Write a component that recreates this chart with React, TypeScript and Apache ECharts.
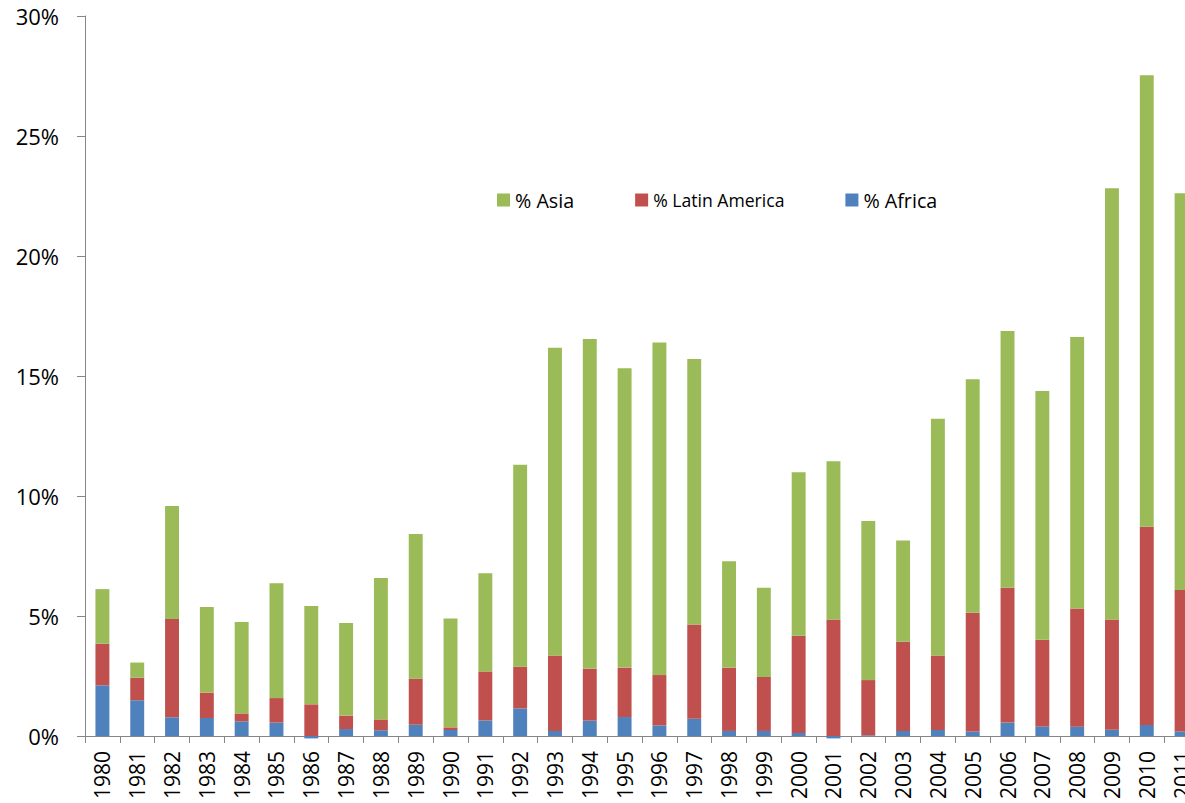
import React, { useEffect, useRef } from "react";
import * as echarts from "echarts";

const years = [
  "1980", "1981", "1982", "1983", "1984", "1985", "1986", "1987", "1988", "1989",
  "1990", "1991", "1992", "1993", "1994", "1995", "1996", "1997", "1998", "1999",
  "2000", "2001", "2002", "2003", "2004", "2005", "2006", "2007", "2008", "2009",
  "2010", "2011",
];

const africa = [
  2.11, 1.49, 0.78, 0.75, 0.61, 0.56, -0.1, 0.29, 0.24, 0.47,
  0.25, 0.65, 1.15, 0.21, 0.64, 0.79, 0.44, 0.72, 0.21, 0.21,
  0.13, -0.1, 0.03, 0.21, 0.25, 0.19, 0.56, 0.4, 0.39, 0.26,
  0.46, 0.19,
];

const latinAmerica = [
  1.74, 0.94, 4.1, 1.06, 0.33, 1.02, 1.32, 0.56, 0.45, 1.92,
  0.11, 2.04, 1.74, 3.14, 2.17, 2.06, 2.1, 3.93, 2.64, 2.25,
  4.05, 4.85, 2.3, 3.72, 3.1, 4.95, 5.62, 3.61, 4.92, 4.59,
  8.26, 5.89,
];

const asia = [
  2.27, 0.63, 4.7, 3.57, 3.81, 4.78, 4.1, 3.86, 5.89, 6.03,
  4.54, 4.09, 8.41, 12.83, 13.73, 12.47, 13.86, 11.06, 4.43, 3.72,
  6.81, 6.6, 6.63, 4.22, 9.87, 9.72, 10.7, 10.37, 11.32, 17.97,
  18.81, 16.53,
];

const legendNames = ["% Asia", "% Latin America", "% Africa"];

export default function App() {
  const ref = useRef<HTMLDivElement>(null);

  useEffect(() => {
    if (!ref.current) return;
    const chart = echarts.init(ref.current, undefined, { renderer: "svg" });
    const font = "'Open Sans', 'Liberation Sans', sans-serif";
    const axisGray = "#868686";
    chart.setOption({
      animation: false,
      backgroundColor: "#ffffff",
      textStyle: { fontFamily: font },
      grid: { left: 85, right: 0, top: 16, bottom: 67, containLabel: false },
      legend: {
        data: legendNames,
        left: 492,
        top: 185,
        itemWidth: 13,
        itemHeight: 13,
        itemGap: 61,
        icon: "rect",
        textStyle: {
          fontFamily: font,
          fontSize: 19.7,
          color: "#000",
          lineHeight: 20,
          rich: { s: { fontSize: 17.6, fontFamily: font, color: "#000", lineHeight: 20 } },
        },
        formatter: (name: string) =>
          name === "% Latin America" ? "{s|" + name + "}" : name,
      },
      xAxis: {
        type: "category",
        data: years,
        axisLine: { show: true, lineStyle: { color: axisGray, width: 1 } },
        axisTick: { show: true, length: 7, lineStyle: { color: axisGray } },
        axisLabel: {
          rotate: 90,
          margin: 15,
          fontSize: 21,
          color: "#000",
          fontFamily: font,
          interval: 0,
        },
        splitLine: { show: false },
      },
      yAxis: {
        type: "value",
        min: 0,
        max: 30,
        interval: 5,
        axisLine: { show: true, lineStyle: { color: axisGray, width: 1 } },
        axisTick: { show: true, length: 8, lineStyle: { color: axisGray } },
        axisLabel: {
          formatter: "{value}%",
          fontSize: 22,
          color: "#000",
          margin: 26,
          fontFamily: font,
        },
        splitLine: { show: false },
      },
      series: [
        {
          name: "% Africa",
          type: "bar",
          stack: "total",
          data: africa,
          barWidth: "40%",
          clip: false,
          itemStyle: { color: "#4F81BD" },
        },
        {
          name: "% Latin America",
          type: "bar",
          stack: "total",
          data: latinAmerica,
          barWidth: "40%",
          clip: false,
          itemStyle: { color: "#C0504D" },
        },
        {
          name: "% Asia",
          type: "bar",
          stack: "total",
          data: asia,
          barWidth: "40%",
          clip: false,
          itemStyle: { color: "#9BBB59" },
        },
      ],
    });
    return () => chart.dispose();
  }, []);

  return (
    <div
      style={{
        position: "fixed",
        left: 0,
        top: 0,
        width: 1185,
        height: 803,
        overflow: "hidden",
        background: "#fff",
      }}
    >
      <div ref={ref} style={{ width: 1199, height: 803 }} />
    </div>
  );
}
